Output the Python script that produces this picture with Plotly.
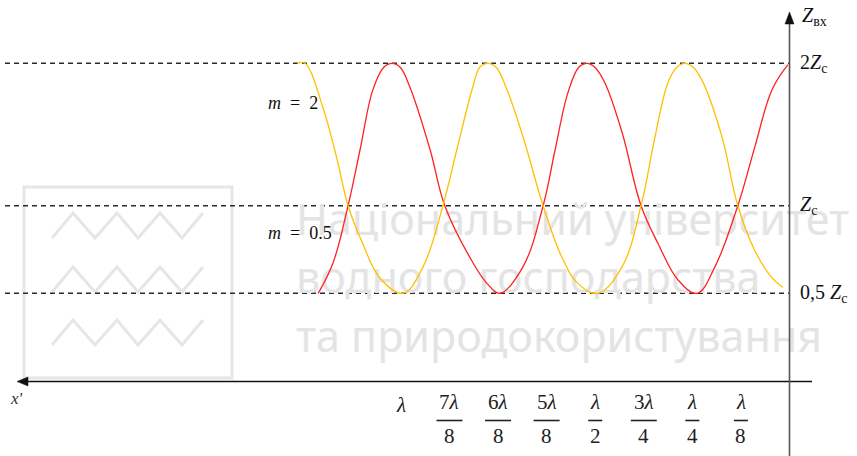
import plotly.graph_objects as go

W, H = 857, 456

# Input impedance |Z_in| / Z_c versus distance x' from the load (in wavelengths)
red_d = [1.213, 1.175, 1.136, 1.105, 1.072, 1.044, 1.023, 1.002, 0.977, 0.925,
         0.887, 0.822, 0.778, 0.745, 0.686, 0.634, 0.603, 0.570,
         0.542, 0.521, 0.501, 0.475, 0.431, 0.382, 0.338, 0.287, 0.238,
         0.192, 0.133, 0.089, 0.045, 0.004]
red_z = [0.50, 0.66, 1.00, 1.37, 1.80, 1.97, 2.00, 1.97, 1.82, 1.37,
         1.00, 0.69, 0.55, 0.50, 0.64, 1.00, 1.37, 1.78,
         1.97, 2.00, 1.97, 1.85, 1.49, 1.00, 0.77, 0.57, 0.50,
         0.64, 1.00, 1.39, 1.80, 1.99]

yel_d = [1.267, 1.247, 1.201, 1.164, 1.136, 1.098, 1.054, 0.995,
         0.943, 0.892, 0.856, 0.815, 0.797, 0.776, 0.755, 0.727, 0.686, 0.634,
         0.585, 0.544, 0.493, 0.431, 0.382, 0.346, 0.313, 0.290,
         0.269, 0.248, 0.225, 0.174, 0.133, 0.089, 0.045, 0.017]
yel_z = [2.00, 2.00, 1.67, 1.30, 1.00, 0.77, 0.58, 0.50,
         0.64, 1.00, 1.37, 1.82, 1.97, 2.00, 1.97, 1.80, 1.46, 1.00,
         0.69, 0.55, 0.50, 0.64, 1.00, 1.46, 1.85, 1.97,
         2.00, 1.97, 1.87, 1.46, 1.00, 0.73, 0.58, 0.53]

levels = [2.0, 1.0, 0.5]
level_labels = ["2<i>Z</i><sub>с</sub>", "<i>Z</i><sub>с</sub>", "0,5 <i>Z</i><sub>с</sub>"]

tick_pos = [1, 7 / 8, 6 / 8, 5 / 8, 4 / 8, 3 / 8, 2 / 8, 1 / 8]
tick_num = ["<i>λ</i>", "7<i>λ</i>", "6<i>λ</i>", "5<i>λ</i>", "<i>λ</i>", "3<i>λ</i>", "<i>λ</i>", "<i>λ</i>"]
tick_den = ["", "8", "8", "8", "2", "4", "4", "8"]
tick_bar_px = [0, 13, 13, 13, 7, 13, 7, 7]

watermark_lines = ["Національний університет", "водного господарства", "та природокористування"]

MATH = "Liberation Serif"
RED = "#ff2020"
GOLD = "#ffc000"
WM = "#e4e4e4"

# the vertical scale is a power scale (Z ** P), which compresses the upper part
P = 0.701


def scale(z):
    return z ** P


X_RANGE = [2.0317, -0.1737]
Y_RANGE = [-0.0997, 1.9038]


def px(x):
    return x / W


def py(y):
    return 1 - y / H


def dx(x):
    # pixel column -> distance along the line
    return X_RANGE[0] + (X_RANGE[1] - X_RANGE[0]) * x / W


def sy(y):
    # pixel row -> scaled impedance value
    return Y_RANGE[1] - (Y_RANGE[1] - Y_RANGE[0]) * y / H


fig = go.Figure()

# university watermark text, kept beneath the curves
wm_rows = [224, 282, 341]
fig.add_trace(go.Scatter(
    x=[dx(296)] * 3, y=[sy(r) for r in wm_rows], mode="text",
    text=watermark_lines, textposition="middle right",
    textfont=dict(family="Noto Sans", size=43, color=WM),
    hoverinfo="skip", showlegend=False,
))

fig.add_trace(go.Scatter(
    x=red_d, y=[scale(z) for z in red_z], customdata=red_z, mode="lines",
    line=dict(color=RED, width=1.3, shape="spline", smoothing=1.1),
    hovertemplate="x'=%{x:.3f}λ<br>Z=%{customdata:.2f}Zc<extra></extra>",
    showlegend=False, name="m = 0.5",
))
fig.add_trace(go.Scatter(
    x=yel_d, y=[scale(z) for z in yel_z], customdata=yel_z, mode="lines",
    line=dict(color=GOLD, width=1.3, shape="spline", smoothing=1.1),
    hovertemplate="x'=%{x:.3f}λ<br>Z=%{customdata:.2f}Zc<extra></extra>",
    showlegend=False, name="m = 2",
))

shapes = []

# watermark logo: frame with three zigzags
shapes.append(dict(type="rect", xref="paper", yref="paper", layer="below",
                   x0=px(24), x1=px(232), y0=py(378), y1=py(187),
                   line=dict(color="#e6e6e6", width=3)))
zig_x = [52, 73, 95, 117, 138, 160, 182, 203]
for top, bot in [(213, 238), (267, 292), (320, 345)]:
    pts = [(zx, bot if i % 2 == 0 else top) for i, zx in enumerate(zig_x)]
    path = "M " + " L ".join(f"{px(a):.5f},{py(b):.5f}" for a, b in pts)
    shapes.append(dict(type="path", xref="paper", yref="paper", layer="below", path=path,
                       line=dict(color="#e6e6e6", width=3)))

# dashed reference levels
for lv in levels:
    shapes.append(dict(type="line", xref="x", yref="y", layer="below",
                       x0=dx(5), x1=0, y0=scale(lv), y1=scale(lv),
                       line=dict(color="#2a2a2a", width=1.4, dash="5px,4px")))

# horizontal x' axis with arrow pointing left
ax_y = 381.5
shapes.append(dict(type="line", xref="paper", yref="paper",
                   x0=px(812), x1=px(24), y0=py(ax_y), y1=py(ax_y),
                   line=dict(color="#111111", width=1.5)))
shapes.append(dict(type="path", xref="paper", yref="paper",
                   path=f"M {px(17)},{py(ax_y)} L {px(28)},{py(ax_y - 4.5)} L {px(28)},{py(ax_y + 4.5)} Z",
                   fillcolor="#111111", line=dict(color="#111111", width=0.5)))

# vertical Z axis at the load, arrow pointing up
shapes.append(dict(type="line", xref="x", yref="paper",
                   x0=0, x1=0, y0=0, y1=py(20),
                   line=dict(color="#555555", width=1.6)))
shapes.append(dict(type="path", xref="paper", yref="paper",
                   path=f"M {px(789.5)},{py(12)} L {px(785)},{py(24)} L {px(794)},{py(24)} Z",
                   fillcolor="#111111", line=dict(color="#111111", width=0.5)))

# fraction bars under the tick numerators
for pos, half in zip(tick_pos, tick_bar_px):
    if half == 0:
        continue
    shapes.append(dict(type="line", xref="x", yref="paper", xsizemode="pixel", xanchor=pos,
                       x0=-half, x1=half, y0=py(420.5), y1=py(420.5),
                       line=dict(color="#222222", width=1.6)))

annotations = []
for pos, num, den in zip(tick_pos, tick_num, tick_den):
    annotations.append(dict(x=pos, y=py(402 if den else 405), xref="x", yref="paper",
                            text=num, showarrow=False, xanchor="center", yanchor="middle",
                            font=dict(family=MATH, size=21, color="#222222")))
    if den:
        annotations.append(dict(x=pos, y=py(436), xref="x", yref="paper",
                                text=den, showarrow=False, xanchor="center", yanchor="middle",
                                font=dict(family=MATH, size=21, color="#222222")))

for lv, lab in zip(levels, level_labels):
    annotations.append(dict(x=px(798), y=scale(lv), xref="paper", yref="y", text=lab,
                            showarrow=False, xanchor="left", yanchor="middle",
                            font=dict(family=MATH, size=20, color="#111111")))

annotations.append(dict(x=px(800), y=py(17), xref="paper", yref="paper",
                        text="<i>Z</i><sub>вх</sub>", showarrow=False, xanchor="left", yanchor="middle",
                        font=dict(family=MATH, size=20, color="#111111")))
annotations.append(dict(x=px(8), y=py(398), xref="paper", yref="paper",
                        text="<i>x′</i>", showarrow=False, xanchor="left", yanchor="middle",
                        font=dict(family=MATH, size=17, color="#333333")))

annotations.append(dict(x=px(266), y=py(103), xref="paper", yref="paper",
                        text="<i>m</i>\u2002=\u20022", showarrow=False, xanchor="left", yanchor="middle",
                        font=dict(family=MATH, size=18, color="#111111")))
annotations.append(dict(x=px(266), y=py(233), xref="paper", yref="paper",
                        text="<i>m</i>\u2002=\u20020.5", showarrow=False, xanchor="left", yanchor="middle",
                        font=dict(family=MATH, size=18, color="#111111")))

fig.update_layout(
    width=W, height=H,
    margin=dict(l=0, r=0, t=0, b=0),
    paper_bgcolor="white", plot_bgcolor="white",
    xaxis=dict(range=X_RANGE, showgrid=False, zeroline=False, showticklabels=False,
               showline=False, ticks=""),
    yaxis=dict(range=Y_RANGE, showgrid=False, zeroline=False, showticklabels=False,
               showline=False, ticks=""),
    shapes=shapes,
    annotations=annotations,
    showlegend=False,
)

fig.write_html("out.html")
